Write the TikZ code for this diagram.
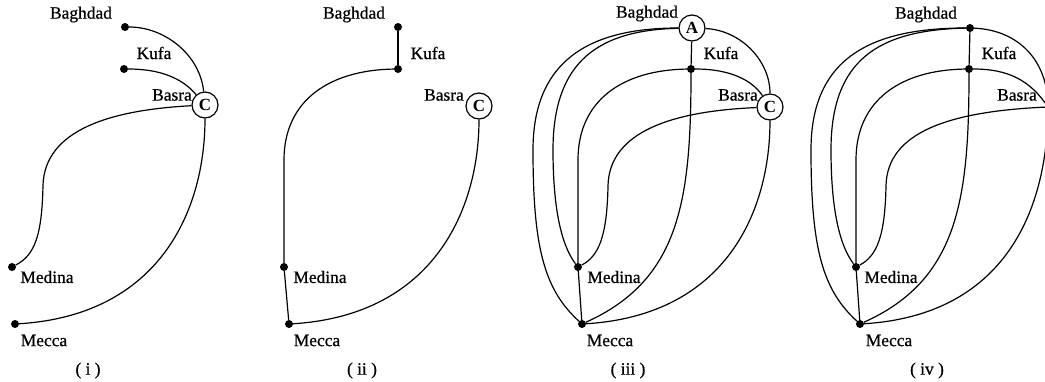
\documentclass[tikz,border=0pt]{standalone}
\usepackage{fontspec}
\setmainfont{Liberation Serif}
\newfontfamily\lblfont{Liberation Serif}[FakeBold=0.6]
\tikzset{
  conn/.style={line width=1.2pt},
  dot/.style={circle,fill=black,inner sep=0pt,minimum size=8pt},
  city/.style={circle,draw,fill=white,line width=1.2pt,inner sep=0pt,minimum size=26pt,font=\fontsize{17}{17}\selectfont\bfseries},
  lbl/.style={inner sep=0pt,font=\lblfont\fontsize{17.4}{19}\selectfont},
}
\newcommand\mylinks[1]{%
  \draw[conn] (A#1) .. controls (740,30) and (770,60) .. (C#1);
  \draw[conn] (A#1) -- (K#1);
  \draw[conn] (K#1) .. controls (730,69) and (752,80) .. (C#1);
  \draw[conn] (K#1) .. controls (623,70) and (578,100) .. (578,160) -- (Md#1);
  \draw[conn] (K#1) .. controls (691,200) and (680,280) .. (Mc#1);
  \draw[conn] (C#1) .. controls (674,111) and (609,131) .. (608,186) .. controls (607,236) and (599,256) .. (Md#1);
  \draw[conn] (C#1) .. controls (770,210) and (727,315) .. (Mc#1);
  \draw[conn] (Md#1) -- (Mc#1);
  \draw[conn] (A#1) .. controls (600,30) and (553,60) .. (553,150) .. controls (553,220) and (565,250) .. (Md#1);
  \draw[conn] (A#1) .. controls (590,28) and (533,60) .. (533,150) .. controls (533,250) and (545,290) .. (Mc#1);
}
\begin{document}
\begin{tikzpicture}[x=1pt,y=-1pt]
\useasboundingbox (0,0) rectangle (1045,381);
\clip (0,0) rectangle (1045,381);
\fill[white] (0,0) rectangle (1045,381);

% ---------- panel (i)
\node[dot] (B1) at (125,27) {};
\node[dot] (K1) at (124,69) {};
\node[city] (C1) at (205,105) {C};
\node[dot] (Md1) at (12,267) {};
\node[dot] (Mc1) at (15,324) {};
\draw[conn] (B1) .. controls (165,27) and (200,55) .. (C1);
\draw[conn] (K1) .. controls (160,69) and (182,78) .. (C1);
\draw[conn] (C1) .. controls (110,110) and (45,130) .. (43,185) .. controls (42,235) and (35,255) .. (Md1);
\draw[conn] (C1) .. controls (205,210) and (160,315) .. (Mc1);
\node[lbl] (lB1) at (81,14.5) {Baghdad};
\node[lbl] (lK1) at (154,53) {Kufa};
\node[lbl] (lC1) at (172,95) {Basra};
\node[lbl] (lMd1) at (47,277) {Medina};
\node[lbl] (lMc1) at (44,340.5) {Mecca};
\node[lbl] (cap1) at (88,370.5) {( i )};

% ---------- panel (ii)
\node[dot] (B2) at (398,27) {};
\node[dot] (K2) at (398,69) {};
\node[city] (C2) at (479,106) {C};
\node[dot] (Md2) at (284,267) {};
\node[dot] (Mc2) at (289,324) {};
\draw[conn] (B2) -- (K2);
\draw[conn] (K2) .. controls (330,70) and (284,100) .. (284,160) -- (Md2);
\draw[conn] (Md2) -- (Mc2);
\draw[conn] (C2) .. controls (479,209) and (434,315) .. (Mc2);
\node[lbl] (lB2) at (354,14.5) {Baghdad};
\node[lbl] (lK2) at (428,53) {Kufa};
\node[lbl] (lC2) at (444,95) {Basra};
\node[lbl] (lMd2) at (320,277) {Medina};
\node[lbl] (lMc2) at (317,340.5) {Mecca};
\node[lbl] (cap2) at (362,370.5) {( ii )};

% ---------- panel (iii)
\node[city] (A3) at (692,28) {A};
\node[dot] (K3) at (691,69) {};
\node[city] (C3) at (770,107) {C};
\node[dot] (Md3) at (578,267) {};
\node[dot] (Mc3) at (582,324) {};
\mylinks{3}
\node[lbl] (lB3) at (647,13.5) {Baghdad};
\node[lbl] (lK3) at (721,53) {Kufa};
\node[lbl] (lC3) at (738,95) {Basra};
\node[lbl] (lMd3) at (614,277) {Medina};
\node[lbl] (lMc3) at (610,340.5) {Mecca};
\node[lbl] (cap3) at (628,370.5) {( iii )};

% ---------- panel (iv)
\begin{scope}[xshift=278pt]
\node[dot] (A4) at (692,28) {};
\node[dot] (K4) at (691,69) {};
\coordinate (C4) at (770,107);
\node[dot] (Md4) at (578,267) {};
\node[dot] (Mc4) at (582,324) {};
\mylinks{4}
\end{scope}
\node[lbl] (lB4) at (926,14.5) {Baghdad};
\node[lbl] (lK4) at (999,53) {Kufa};
\node[lbl] (lC4) at (1017,95) {Basra};
\node[lbl] (lMd4) at (891,277) {Medina};
\node[lbl] (lMc4) at (889,340.5) {Mecca};
\node[lbl] (cap4) at (927,370.5) {( iv )};
\end{tikzpicture}
\end{document}
